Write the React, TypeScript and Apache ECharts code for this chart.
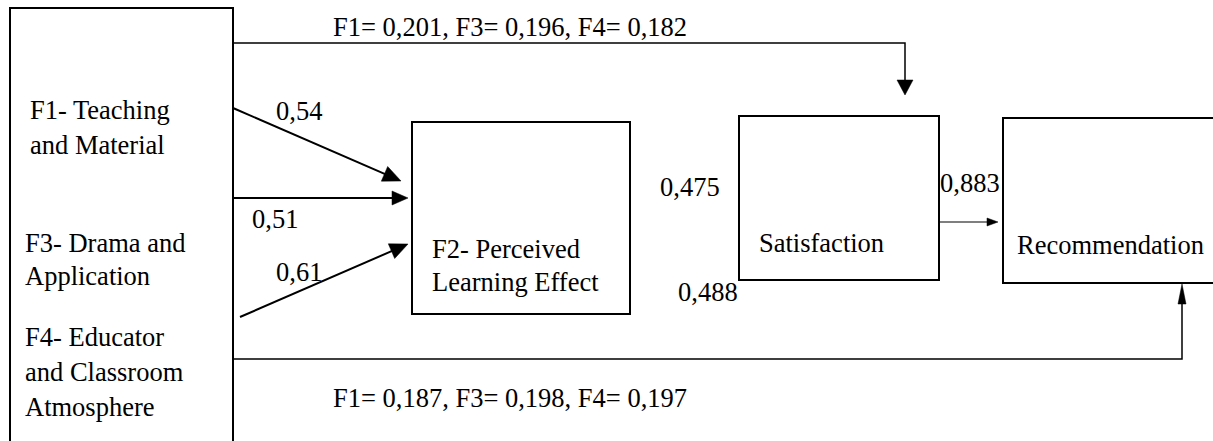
import React, { useEffect, useRef } from "react";
import * as echarts from "echarts";

// ---- Diagram content (texts & coefficients) ----
const factorLines = [
  ["F1- Teaching", "and Material"],
  ["F3- Drama and", "Application"],
  ["F4- Educator", "and Classroom", "Atmosphere"],
];
const factorNames = ["F1", "F3", "F4"];
const directToSatisfaction = ["0,201", "0,196", "0,182"];
const directToRecommendation = ["0,187", "0,198", "0,197"];
const toPerceivedLearning = ["0,54", "0,51", "0,61"];
const toSatisfaction = ["0,475", "0,488"];
const toRecommendation = ["0,883"];
const boxLabels = {
  f2: ["F2- Perceived", "Learning Effect"],
  sat: ["Satisfaction"],
  rec: ["Recommendation"],
};

const FS = 26.5;
const FONT_CSS = `${FS}px 'Times New Roman', 'Liberation Serif', serif`;

function txt(text: string, x: number, y: number, extra: any = {}) {
  return {
    type: "text",
    x,
    y,
    silent: true,
    style: {
      text,
      font: FONT_CSS,
      fill: "#000",
      align: "left",
      verticalAlign: "middle",
      ...extra,
    },
  };
}

function line(x1: number, y1: number, x2: number, y2: number, w = 1.5) {
  return {
    type: "line",
    silent: true,
    shape: { x1, y1, x2, y2 },
    style: { stroke: "#000", lineWidth: w },
  };
}

function head(x1: number, y1: number, x2: number, y2: number, len: number, half: number) {
  const dx = x2 - x1;
  const dy = y2 - y1;
  const d = Math.sqrt(dx * dx + dy * dy);
  const ux = dx / d;
  const uy = dy / d;
  const bx = x2 - ux * len;
  const by = y2 - uy * len;
  return {
    type: "polygon",
    silent: true,
    shape: {
      points: [
        [x2, y2],
        [bx - uy * half, by + ux * half],
        [bx + uy * half, by - ux * half],
      ],
    },
    style: { fill: "#000", stroke: "#000", lineWidth: 0.5 },
  };
}

function arrow(x1: number, y1: number, x2: number, y2: number, w: number, len: number, half: number) {
  const dx = x2 - x1;
  const dy = y2 - y1;
  const d = Math.sqrt(dx * dx + dy * dy);
  const ex = x2 - (dx / d) * (len - 2);
  const ey = y2 - (dy / d) * (len - 2);
  return [line(x1, y1, ex, ey, w), head(x1, y1, x2, y2, len, half)];
}

function rect(x: number, y: number, width: number, height: number, w = 2) {
  return {
    type: "rect",
    silent: true,
    shape: { x, y, width, height },
    style: { fill: "transparent", stroke: "#000", lineWidth: w },
  };
}

export default function App() {
  const ref = useRef<HTMLDivElement>(null);

  useEffect(() => {
    document.body.style.margin = "0";
    const chart = echarts.init(ref.current!, null, { renderer: "svg" });

    const topLabel = factorNames
      .map((f, i) => `${f}= ${directToSatisfaction[i]}`)
      .join(", ");
    const bottomLabel = factorNames
      .map((f, i) => `${f}= ${directToRecommendation[i]}`)
      .join(", ");

    const elements: any[] = [];

    // Left factor box (open at the bottom)
    elements.push({
      type: "polyline",
      silent: true,
      shape: { points: [[10, 445], [10, 8], [233, 8], [233, 445]] },
      style: { fill: "none", stroke: "#000", lineWidth: 2 },
    });

    // Factor texts
    const factorY = [[110, 145], [243, 276], [337, 372, 407]];
    const factorX = [30, 25, 25];
    factorLines.forEach((lines, i) =>
      lines.forEach((l, j) => elements.push(txt(l, factorX[i], factorY[i][j])))
    );

    // Boxes
    elements.push(rect(412, 122, 218, 192));
    elements.push(rect(739, 116, 200, 164));
    elements.push(rect(1003, 118, 212, 165));

    elements.push(txt(boxLabels.f2[0], 432, 249));
    elements.push(txt(boxLabels.f2[1], 432, 282));
    elements.push(txt(boxLabels.sat[0], 759, 243));
    elements.push(txt(boxLabels.rec[0], 1017, 245));

    // Arrows to F2
    elements.push(...arrow(233, 108, 401, 181, 2, 18, 8));
    elements.push(...arrow(233, 198, 408, 198, 2, 16, 7));
    elements.push(...arrow(240, 317, 408, 244, 2, 18, 8));

    elements.push(txt(toPerceivedLearning[0], 276, 111));
    elements.push(txt(toPerceivedLearning[1], 252, 219));
    elements.push(txt(toPerceivedLearning[2], 276, 272));

    // Coefficients to Satisfaction
    elements.push(txt(toSatisfaction[0], 660, 187));
    elements.push(txt(toSatisfaction[1], 678, 292));

    // Satisfaction -> Recommendation
    elements.push(...arrow(939, 222, 998, 222, 1.2, 11, 4));
    elements.push(txt(toRecommendation[0], 940, 183));

    // Top connector: F-box -> Satisfaction
    elements.push({
      type: "polyline",
      silent: true,
      shape: { points: [[233, 43], [905, 43], [905, 82]] },
      style: { fill: "none", stroke: "#000", lineWidth: 1.5 },
    });
    elements.push(head(905, 43, 905, 95, 15, 8));
    elements.push(txt(topLabel, 333, 27));

    // Bottom connector: F-box -> Recommendation
    elements.push({
      type: "polyline",
      silent: true,
      shape: { points: [[233, 359], [1182, 359], [1182, 302]] },
      style: { fill: "none", stroke: "#000", lineWidth: 1.5 },
    });
    elements.push(head(1182, 359, 1182, 284, 20, 4));
    elements.push(txt(bottomLabel, 333, 398));

    chart.setOption({
      animation: false,
      backgroundColor: "#fff",
      graphic: { elements },
    });

    return () => chart.dispose();
  }, []);

  return <div ref={ref} style={{ width: 1213, height: 441 }} />;
}
